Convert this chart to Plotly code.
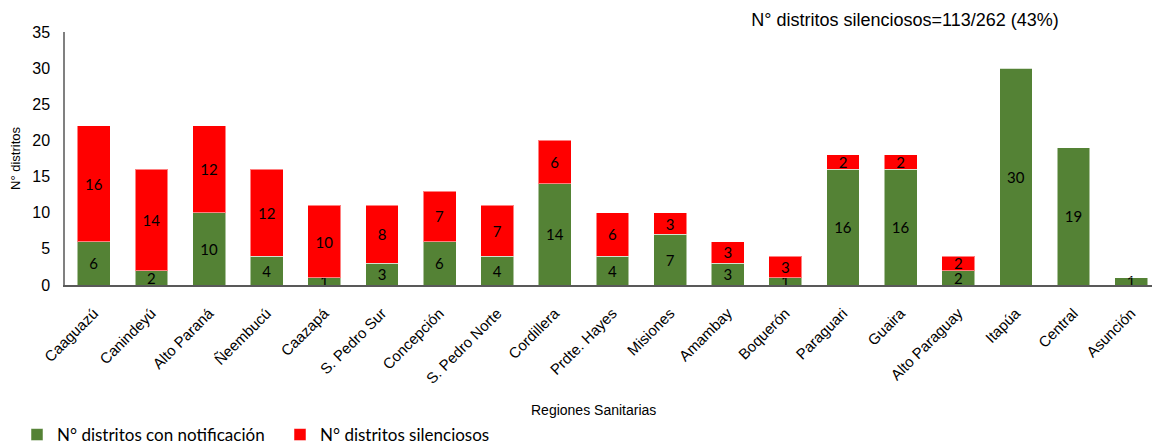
import plotly.graph_objects as go

regiones = ["Caaguazú", "Canindeyú", "Alto Paraná", "Ñeembucú", "Caazapá", "S. Pedro Sur",
            "Concepción", "S. Pedro Norte", "Cordillera", "Prdte. Hayes", "Misiones", "Amambay",
            "Boquerón", "Paraguari", "Guaira", "Alto Paraguay", "Itapúa", "Central", "Asunción"]
con_notificacion = [6, 2, 10, 4, 1, 3, 6, 4, 14, 4, 7, 3, 1, 16, 16, 2, 30, 19, 1]
silenciosos = [16, 14, 12, 12, 10, 8, 7, 7, 6, 6, 3, 3, 3, 2, 2, 2, 0, 0, 0]

narrow = "Liberation Sans Narrow, Arial Narrow, Liberation Sans, Arial"
lab_font = "Lato, Open Sans, sans-serif"

def labels(vals):
    return [str(v) if v else "" for v in vals]

fig = go.Figure()
fig.add_trace(go.Bar(
    x=regiones, y=con_notificacion, name="N° distritos con notificación",
    marker=dict(color="#548235", line=dict(color="rgba(255,255,255,0.5)", width=1)),
    text=labels(con_notificacion), textposition="inside", insidetextanchor="middle", textangle=0,
    textfont=dict(family=lab_font, size=15, color="black"), width=0.57,
))
fig.add_trace(go.Bar(
    x=regiones, y=silenciosos, name="N° distritos silenciosos",
    marker=dict(color="#FF0000", line=dict(color="rgba(255,255,255,0.5)", width=1)),
    text=labels(silenciosos), textposition="inside", insidetextanchor="middle", textangle=0,
    textfont=dict(family=lab_font, size=15, color="black"), width=0.57,
))

fig.update_layout(
    barmode="stack",
    width=1160, height=446,
    margin=dict(l=57, r=8, t=24, b=169, autoexpand=False),
    plot_bgcolor="white", paper_bgcolor="white",
    uniformtext=dict(minsize=15, mode="show"),
    title=dict(text="N° distritos silenciosos=113/262 (43%)", xref="container", yref="container",
               x=897/1160, xanchor="center", y=1 - 12/446, yanchor="middle",
               font=dict(family=narrow, size=18, color="black")),
    legend=dict(orientation="h", xref="container", yref="container", x=9/1160, xanchor="left",
                y=1 - 427/446, yanchor="middle", font=dict(family=lab_font, size=17, color="black"),
                entrywidth=218, entrywidthmode="pixels", itemwidth=30, traceorder="normal"),
    showlegend=True,
    annotations=[dict(text="Regiones Sanitarias", xref="paper", yref="paper",
                      x=(593 - 65) / 1095, xanchor="center", y=(277 - 402) / 253, yanchor="middle",
                      showarrow=False, font=dict(family=narrow, size=14, color="black"))],
)
fig.update_xaxes(
    tickangle=-45, tickfont=dict(family=narrow, size=15, color="black"),
    showline=True, linecolor="#595959", linewidth=1.5, showgrid=False, ticks="",
    ticklabelstandoff=12, automargin=False,
)
fig.update_yaxes(
    range=[0, 35], dtick=5, tickfont=dict(family=narrow, size=16, color="black"),
    showline=True, linecolor="#808080", linewidth=1.5, showgrid=False, ticks="",
    ticklabelstandoff=10, zeroline=False, automargin=False,
    title=dict(text="N° distritos", font=dict(family=narrow, size=13, color="black"), standoff=12),
)

fig.write_html("out.html")
